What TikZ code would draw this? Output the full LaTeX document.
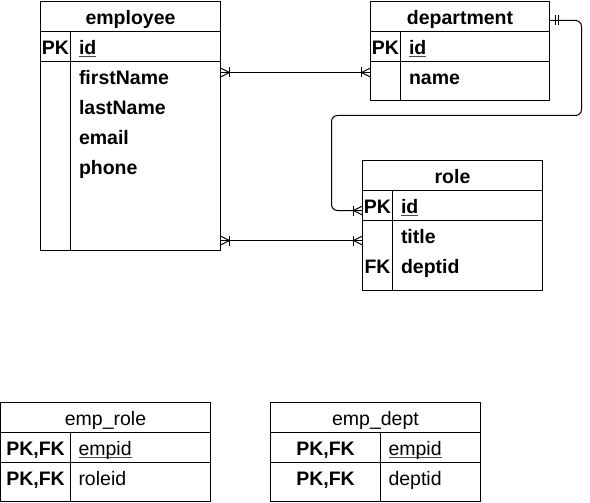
\documentclass[tikz,border=0pt]{standalone}
\usepackage{fontspec}
\setmainfont{Liberation Sans}
\newcommand\myul[1]{\setbox0\hbox{#1}\rlap{\color{black!70}\rule[-3pt]{\wd0}{1.3pt}}\box0}
\tikzset{
  tbl/.style={draw, rectangle, anchor=north west, inner sep=0pt, outer sep=0pt},
  ttlb/.style={font=\fontsize{19.5}{22}\selectfont\bfseries, anchor=mid, inner sep=0pt, yshift=-5pt},
  ttlr/.style={font=\fontsize{19.5}{22}\selectfont, anchor=mid, inner sep=0pt, yshift=-5pt},
  keyb/.style={font=\fontsize{19.5}{22}\selectfont\bfseries, anchor=mid, inner sep=0pt, yshift=-5pt},
  fldb/.style={font=\fontsize{19.5}{22}\selectfont\bfseries, anchor=mid west, inner sep=0pt, yshift=-5pt},
  fldr/.style={font=\fontsize{19.5}{22}\selectfont, anchor=mid west, inner sep=0pt, yshift=-5pt},
  conn/.style={draw, line width=1pt},
  manyone/.pic={\draw[line width=1pt] (0,-4.5) -- (9,0) -- (0,4.5); \draw[line width=1pt] (9,-5) -- (9,5);},
  mandone/.pic={\draw[line width=1pt] (5.5,-5) -- (5.5,5); \draw[line width=1pt] (8.5,-5) -- (8.5,5);}
}
\begin{document}
\begin{tikzpicture}[x=1pt,y=-1pt,line width=1pt]
\useasboundingbox (0,0) rectangle (590,503);

% employee
\node[tbl, minimum width=180pt, minimum height=249pt] (employee) at (40.5,1.5) {};
\draw (40.5,31.5) -- (220.5,31.5);
\draw (40.5,61.5) -- (220.5,61.5);
\draw (70.5,31.5) -- (70.5,250.5);
\node[ttlb] (employeeT) at (130.5,16.5) {employee};
\node[keyb] (employeePK) at (55.5,46.5) {PK};
\node[fldb] (employeeId) at (78.5,46.5) {\myul{id}};
\node[fldb] (employeeFN) at (78.5,76.5) {firstName};
\node[fldb] (employeeLN) at (78.5,106.5) {lastName};
\node[fldb] (employeeEM) at (78.5,136.5) {email};
\node[fldb] (employeePH) at (78.5,166.5) {phone};

% department
\node[tbl, minimum width=179pt, minimum height=99pt] (department) at (370.5,1.5) {};
\draw (370.5,31.5) -- (549.5,31.5);
\draw (370.5,61.5) -- (549.5,61.5);
\draw (400.5,31.5) -- (400.5,100.5);
\node[ttlb] (departmentT) at (460,16.5) {department};
\node[keyb] (departmentPK) at (385.5,46.5) {PK};
\node[fldb] (departmentId) at (408.5,46.5) {\myul{id}};
\node[fldb] (departmentName) at (408.5,76.5) {name};

% role
\node[tbl, minimum width=180pt, minimum height=130pt] (role) at (362.5,160.5) {};
\draw (362.5,190.5) -- (542.5,190.5);
\draw (362.5,220.5) -- (542.5,220.5);
\draw (392.5,190.5) -- (392.5,290.5);
\node[ttlb] (roleT) at (452.5,175.5) {role};
\node[keyb] (rolePK) at (377.5,205.5) {PK};
\node[fldb] (roleId) at (400.5,205.5) {\myul{id}};
\node[fldb] (roleTitle) at (400.5,235.5) {title};
\node[keyb] (roleFK) at (377.5,265.5) {FK};
\node[fldb] (roleDept) at (400.5,265.5) {deptid};

% emp_role
\node[tbl, minimum width=210pt, minimum height=99pt] (emprole) at (0.5,402.5) {};
\draw (0.5,432.5) -- (210.5,432.5);
\draw (0.5,462.5) -- (210.5,462.5);
\draw (70.5,432.5) -- (70.5,501.5);
\node[ttlr] (emproleT) at (105.5,417.5) {emp\_role};
\node[keyb] (emprolePK1) at (35.5,447.5) {PK,FK};
\node[fldr] (emproleE) at (78,447.5) {\myul{empid}};
\node[keyb] (emprolePK2) at (35.5,477.5) {PK,FK};
\node[fldr] (emproleR) at (78,477.5) {roleid};

% emp_dept
\node[tbl, minimum width=210pt, minimum height=99pt] (empdept) at (270.5,402.5) {};
\draw (270.5,432.5) -- (480.5,432.5);
\draw (270.5,462.5) -- (480.5,462.5);
\draw (380.5,432.5) -- (380.5,501.5);
\node[ttlr] (empdeptT) at (375.5,417.5) {emp\_dept};
\node[keyb] (empdeptPK1) at (325.5,447.5) {PK,FK};
\node[fldr] (empdeptE) at (388,447.5) {\myul{empid}};
\node[keyb] (empdeptPK2) at (325.5,477.5) {PK,FK};
\node[fldr] (empdeptD) at (388,477.5) {deptid};

% connectors
\draw[conn] (employee.east |- 0,72.5) -- (department.west |- 0,72.5);
\pic at (employee.east |- 0,72.5) {manyone};
\pic[rotate=180] at (department.west |- 0,72.5) {manyone};

\draw[conn] (employee.east |- 0,240.5) -- (role.west |- 0,240.5);
\pic at (employee.east |- 0,240.5) {manyone};
\pic[rotate=180] at (role.west |- 0,240.5) {manyone};

\draw[conn, rounded corners=6pt] (department.east |- 0,20.5) -- (581.5,20.5) -- (581.5,115.5) -- (331.5,115.5) -- (331.5,210.5) -- (role.west |- 0,210.5);
\pic at (department.east |- 0,20.5) {mandone};
\pic[rotate=180] at (role.west |- 0,210.5) {manyone};
\end{tikzpicture}
\end{document}
